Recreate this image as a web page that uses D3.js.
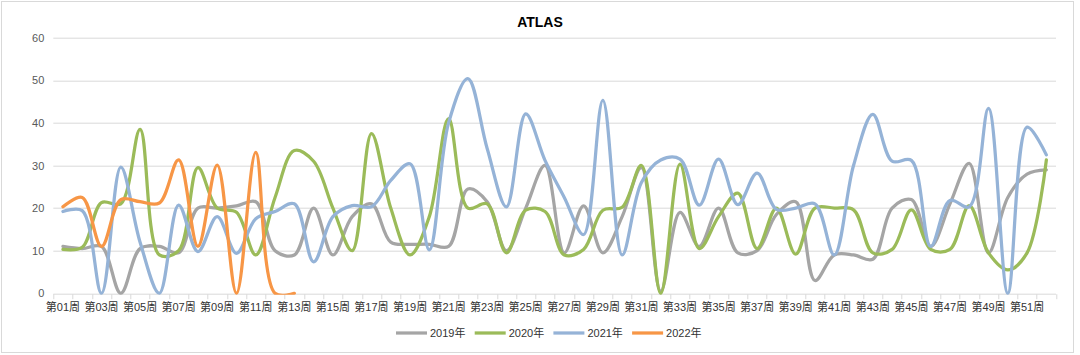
<!DOCTYPE html>
<html>
<head>
<meta charset="utf-8">
<script src="https://cdn.jsdelivr.net/npm/d3@7"></script>
<style>
  body { margin: 0; background: #fff; }
  text { font-family: "Liberation Sans", "Noto Sans CJK SC", sans-serif; }
</style>
</head>
<body>
<svg id="chart" width="1080" height="355"></svg>
<script>
// week labels 第01周 .. 第52周
var weeks = d3.range(1, 53).map(function (d) { return "第" + (d < 10 ? "0" + d : d) + "周"; });
var yTicks = [0, 10, 20, 30, 40, 50, 60];
var seriesNames = ["2019年", "2020年", "2021年", "2022年"];
var seriesColors = ["#A5A5A5", "#9BBB59", "#95B3D7", "#F79646"];

var v2019 = [11, 10.5, 11, 0, 10.5, 11, 9.5, 20, 20, 20.5, 21.5, 10, 9, 20, 9, 18, 21, 12, 11.5, 11.5,
             11, 24.5, 21.5, 10, 20, 30, 9.5, 20.5, 9.5, 18, 29.5, 0.5, 19, 11, 20, 9.5, 10, 18.5, 21.5, 3,
             9, 9, 8, 20, 22, 11, 21, 30.5, 9.5, 22.5, 28, 29];
var v2020 = [10.3, 10.8, 21.3, 21, 38.5, 9, 10, 29.5, 20, 19, 9, 22.5, 33.5, 31, 20, 10, 37.5, 20, 9, 18,
             41, 20, 21, 9.5, 19.5, 19.2, 9, 10.3, 19.5, 20.2, 30, 0, 30.3, 10.5, 18, 23.5, 10.5, 20, 9.2, 20,
             20, 19.6, 9.5, 10.3, 19.6, 10.3, 10.3, 20.6, 9.5, 5.5, 9.5, 31.3];
var v2021 = [19.2, 19.4, 0, 29.6, 12, 0, 20.7, 9.8, 18, 9.4, 17.5, 19.2, 21, 7.4, 18, 20.6, 20.3, 26.5, 30.4, 10.2,
             40, 50.4, 34, 20.3, 42.1, 31.2, 22.5, 13.8, 45.3, 9, 26, 31.3, 31.5, 20.7, 31.5, 20.8, 28.2, 19.7, 20, 21,
             9, 30, 42, 31, 31.2, 11, 21.8, 20.3, 43.4, 0, 39, 32.5];
var v2022 = [20.3, 22.5, 11, 22, 21.5, 21.2, 31.3, 11, 30.1, 0, 33.1, 0, 0];
var seriesValues = [v2019, v2020, v2021, v2022];

var svg = d3.select("#chart");
var W = 1080, H = 355;
var margin = { left: 53.3, right: 24, top: 37.7, bottom: 61.7 };
var plotW = W - margin.left - margin.right;
var plotH = H - margin.top - margin.bottom;

// outer frame
svg.append("rect")
    .attr("x", 1.5).attr("y", 1.5)
    .attr("width", 1072).attr("height", 351)
    .attr("fill", "#fff")
    .attr("stroke", "#D9D9D9")
    .attr("stroke-width", 1);

svg.append("text")
    .attr("x", 540).attr("y", 27)
    .attr("text-anchor", "middle")
    .attr("font-size", 14)
    .attr("font-weight", "bold")
    .attr("fill", "#000")
    .text("ATLAS");

var g = svg.append("g").attr("transform", "translate(" + margin.left + "," + margin.top + ")");

var x = d3.scaleBand().domain(weeks).range([0, plotW]).paddingInner(0).paddingOuter(0);
var y = d3.scaleLinear().domain([0, 60]).range([plotH, 0]);

// gridlines
g.selectAll("line.grid")
    .data(yTicks.filter(function (d) { return d > 0; }))
    .enter().append("line")
    .attr("class", "grid")
    .attr("x1", 0).attr("x2", plotW)
    .attr("y1", function (d) { return Math.round(y(d)) + 0.5; })
    .attr("y2", function (d) { return Math.round(y(d)) + 0.5; })
    .attr("stroke", "#D9D9D9")
    .attr("stroke-width", 1);

// y axis labels
var yAxis = d3.axisLeft(y).tickValues(yTicks).tickSize(0).tickPadding(9);
var yg = g.append("g").call(yAxis);
yg.select(".domain").remove();
yg.selectAll("text").attr("font-size", 11).attr("fill", "#595959")
    .attr("font-family", "\"Liberation Sans\", sans-serif");

// x axis with ticks on category boundaries
var xg = g.append("g").attr("transform", "translate(0," + (Math.round(plotH) + 0.5) + ")");
xg.append("line")
    .attr("x1", 0).attr("x2", plotW)
    .attr("stroke", "#D9D9D9").attr("stroke-width", 1);
xg.selectAll("line.tick")
    .data(d3.range(0, weeks.length + 1))
    .enter().append("line")
    .attr("class", "tick")
    .attr("x1", function (i) { return Math.round(i * x.bandwidth()) + 0.5; })
    .attr("x2", function (i) { return Math.round(i * x.bandwidth()) + 0.5; })
    .attr("y1", 0).attr("y2", 5)
    .attr("stroke", "#D9D9D9");
xg.selectAll("text")
    .data(weeks.filter(function (d, i) { return i % 2 === 0; }))
    .enter().append("text")
    .attr("x", function (d) { return x(d) + x.bandwidth() / 2; })
    .attr("y", 17)
    .attr("text-anchor", "middle")
    .attr("font-size", 11)
    .attr("fill", "#333")
    .text(function (d) { return d; });

// clip the smoothed lines to the plot area
svg.append("defs").append("clipPath").attr("id", "plotclip")
    .append("rect")
    .attr("x", -2).attr("y", -4)
    .attr("width", plotW + 4).attr("height", plotH + 5.5);

// centripetal catmull-rom keeps the overshoot small, closer to excel smoothing
var line = d3.line()
    .x(function (d, i) { return x(weeks[i]) + x.bandwidth() / 2; })
    .y(function (d) { return y(d); })
    .curve(d3.curveCatmullRom.alpha(0.5));

var lines = g.append("g").attr("clip-path", "url(#plotclip)");
seriesValues.forEach(function (vals, k) {
    lines.append("path")
        .datum(vals)
        .attr("d", line)
        .attr("fill", "none")
        .attr("stroke", seriesColors[k])
        .attr("stroke-width", 3.25)
        .attr("stroke-linejoin", "round")
        .attr("stroke-linecap", "round");
});

// legend
var legend = svg.append("g").attr("transform", "translate(396,333)");
seriesNames.forEach(function (name, k) {
    var item = legend.append("g").attr("transform", "translate(" + (k * 78.7) + ",0)");
    item.append("line")
        .attr("x1", 0).attr("x2", 31)
        .attr("stroke", seriesColors[k])
        .attr("stroke-width", 3.25);
    item.append("text")
        .attr("x", 34).attr("y", 4)
        .attr("font-size", 11)
        .attr("fill", "#333")
        .text(name);
});
</script>
</body>
</html>
